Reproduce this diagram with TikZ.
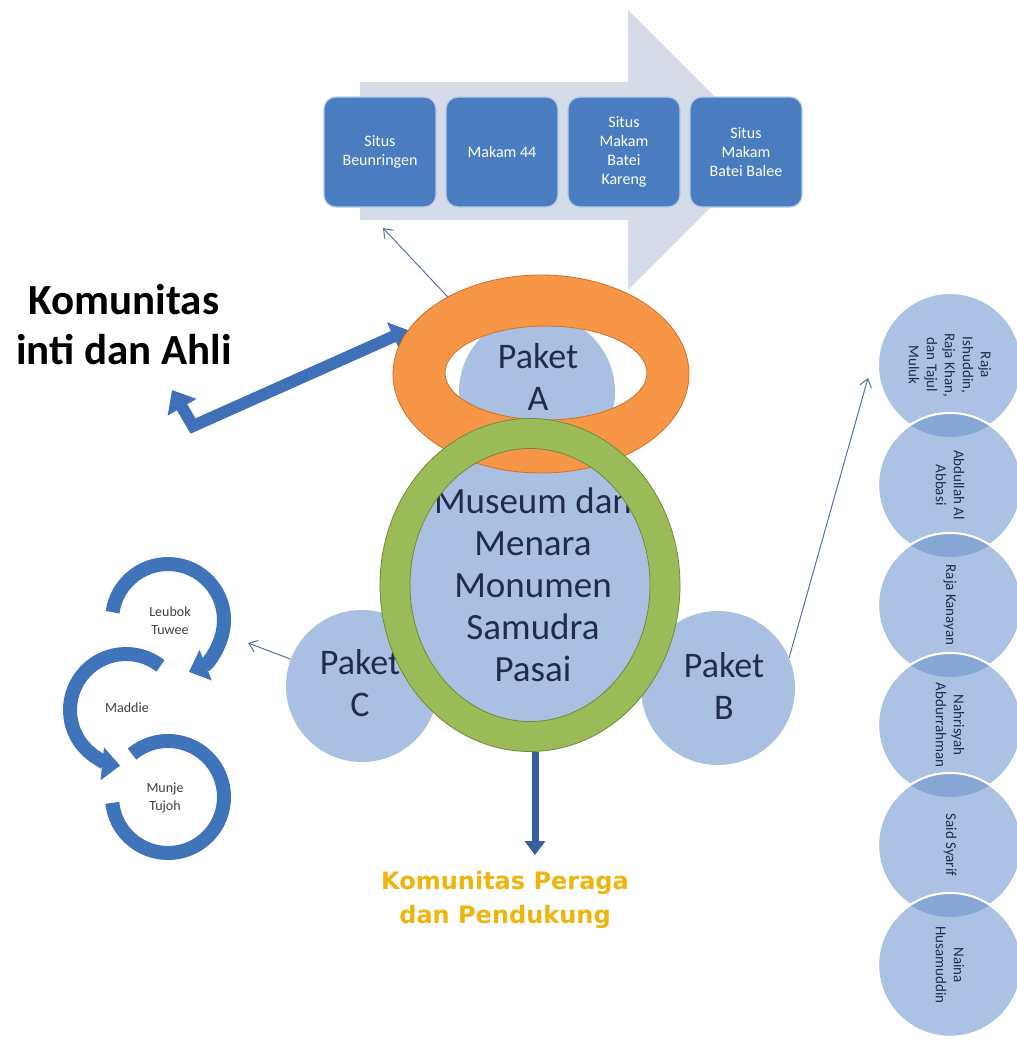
\documentclass[tikz,border=0pt]{standalone}
\usepackage{fontspec}
\setmainfont{Carlito}
\newfontfamily\goldfont{DejaVu Sans}
\usetikzlibrary{arrows.meta,shapes.geometric}
\definecolor{arrowbg}{HTML}{D5DCE8}
\definecolor{boxblue}{HTML}{4A7DC0}
\definecolor{boxedge}{HTML}{B4CDEB}
\definecolor{lightblue}{HTML}{A9C0E2}
\definecolor{rblue}{HTML}{ABC2E4}
\definecolor{rlens}{HTML}{86A6D6}
\definecolor{ringorange}{HTML}{F79646}
\definecolor{orangeedge}{HTML}{D0702A}
\definecolor{ringgreen}{HTML}{9BBB59}
\definecolor{greenedge}{HTML}{6E8C35}
\definecolor{navytext}{HTML}{1F2D4A}
\definecolor{arrowblue}{HTML}{3F70B8}
\definecolor{thinblue}{HTML}{5472A3}
\definecolor{loopblue}{HTML}{3F73BA}
\definecolor{goldtext}{HTML}{EDB50E}
\begin{document}
\begin{tikzpicture}[x=1pt,y=-1pt,
  sitebox/.style={draw=boxedge, line width=1.2, fill=boxblue, rounded corners=12,
    minimum width=112, minimum height=110, inner sep=2, text=white, align=center,
    font=\fontsize{16}{19}\selectfont},
  bcircle/.style={circle, fill=lightblue, inner sep=0},
  bigtxt/.style={align=center, text=navytext, font=\fontsize{36}{42}\selectfont},
  thinarr/.style={draw=thinblue, line width=1, -{Straight Barb[length=8,width=12]}},
  looparc/.style={draw=loopblue, line width=14},
  looptxt/.style={align=center, text=black!75, font=\fontsize{14}{18}\selectfont},
  rcirc/.style={circle, minimum size=144, inner sep=0, fill=rblue, draw=white, line width=2,
    rotate=-90, align=center, text=navytext, font=\fontsize{15}{18}\selectfont}]
\fill[white] (0,0) rectangle (1017,1044);
\useasboundingbox (0,0) rectangle (1017,1044);

% big process arrow
\fill[arrowbg] (360,82) -- (628,82) -- (628,10) -- (768,150) -- (628,290) -- (628,220) -- (360,220) -- cycle;

% site boxes
\node[sitebox] (b1) at (380,152) {Situs\\Beunringen};
\node[sitebox] (b2) at (502,152) {Makam 44};
\node[sitebox] (b3) at (624,152) {Situs\\Makam\\Batei\\Kareng};
\node[sitebox] (b4) at (746,152) {Situs\\Makam\\Batei Balee};

% Paket A circle and link to boxes
\node[bcircle, minimum size=156] (pa) at (537,392) {};
\coordinate (b1tip) at (383,228);
\draw[thinarr] (pa) -- (b1tip);

% thick arrow to Komunitas inti dan Ahli
\coordinate (ka) at (408,330);
\coordinate (kc) at (193,426);
\coordinate (kt) at (172,390);
\draw[draw=arrowblue, line width=12, line join=miter,
  {Triangle[width=32,length=20]}-{Triangle[width=30,length=16]}] (kt) -- (kc) -- (ka);

% centre fill
\fill[lightblue] (530,585) ellipse [x radius=122, y radius=138];

% orange ring
\fill[ringorange, even odd rule] (541,374) ellipse [x radius=148, y radius=99]
  (546,373) ellipse [x radius=101, y radius=47];
\draw[orangeedge, line width=0.8] (541,374) ellipse [x radius=148, y radius=99];
\draw[orangeedge, line width=0.8] (546,373) ellipse [x radius=101, y radius=47];

% Paket B and C circles
\node[bcircle, minimum size=152] (pc) at (362,686) {};
\node[bcircle, minimum size=154] (pb) at (718,688) {};

% texts under the green ring
\node[bigtxt] (tpa) at (538,377) {Paket\\A};
\node[bigtxt] (tpc) at (360,683) {Paket\\C};
\node[bigtxt] (tpb) at (724,686) {Paket\\B};
\node[bigtxt, font=\fontsize{37}{42}\selectfont] (tmm) at (533,585) {Museum dan\\Menara\\Monumen\\Samudra\\Pasai};

% green ring
\node[ellipse, minimum width=270, minimum height=303, inner sep=0, draw=ringgreen, line width=30] (gr) at (530,585) {};
\draw[greenedge, line width=0.8] (530,585) ellipse [x radius=150, y radius=166.5];
\draw[greenedge, line width=0.8] (530,585) ellipse [x radius=120, y radius=136.5];

% down arrow and label
\coordinate (dn) at (535,855);
\draw[draw=arrowblue!85!black, line width=7, -{Triangle[width=20,length=14]}] (dn |- gr.south) -- (dn);
\node[align=center, text=goldtext, font=\goldfont\bfseries\fontsize{24}{34}\selectfont] (kp) at (505,900)
  {Komunitas Peraga\\dan Pendukung};

% Komunitas inti dan Ahli
\node[align=center, text=black, font=\bfseries\fontsize{43}{50}\selectfont] (ki) at (124,325)
  {Komunitas\\inti dan Ahli};

% thin arrows from Paket C and Paket B
\coordinate (ltip) at (248,643);
\draw[thinarr] (pc) -- (ltip);
\coordinate (rtip) at (868,378);
\draw[thinarr] (pb.23) -- (rtip);

% left looping arrows
\coordinate (lc1) at (168,620);
\coordinate (lc2) at (126,710);
\coordinate (lc3) at (168,797);
\draw[looparc, -{Triangle[width=32,length=18]}] ([shift={(188:56)}]lc1) arc[start angle=188, end angle=428, radius=56];
\draw[looparc, -{Triangle[width=32,length=18]}] ([shift={(308:56)}]lc2) arc[start angle=308, end angle=96, radius=56];
\draw[looparc] ([shift={(230:56)}]lc3) arc[start angle=230, end angle=534, radius=56];
\node[looptxt] (lt1) at (170,621) {Leubok\\Tuwee};
\node[looptxt] (lt2) at (127,708) {Maddie};
\node[looptxt] (lt3) at (165,798) {Munje\\Tujoh};

% right column of circles
\node[rcirc] (r1) at (950,365) {Raja\\Ishuddin,\\Raja Khan,\\dan Tajul\\Muluk};
\node[rcirc] (r2) at (950,485) {Abdullah Al\\Abbasi};
\begin{scope}\clip (r1.center) circle[radius=72]; \fill[rlens] (r2.center) circle[radius=72];\end{scope}
\draw[white, line width=2] (r2.center) circle[radius=72];
\node[rcirc] (r3) at (950,605) {Raja Kanayan};
\begin{scope}\clip (r2.center) circle[radius=72]; \fill[rlens] (r3.center) circle[radius=72];\end{scope}
\draw[white, line width=2] (r3.center) circle[radius=72];
\node[rcirc] (r4) at (950,725) {Nahrisyah\\Abdurrahman};
\begin{scope}\clip (r3.center) circle[radius=72]; \fill[rlens] (r4.center) circle[radius=72];\end{scope}
\draw[white, line width=2] (r4.center) circle[radius=72];
\node[rcirc] (r5) at (950,845) {Said Syarif};
\begin{scope}\clip (r4.center) circle[radius=72]; \fill[rlens] (r5.center) circle[radius=72];\end{scope}
\draw[white, line width=2] (r5.center) circle[radius=72];
\node[rcirc] (r6) at (950,965) {Naina\\Husamuddin};
\begin{scope}\clip (r5.center) circle[radius=72]; \fill[rlens] (r6.center) circle[radius=72];\end{scope}
\draw[white, line width=2] (r6.center) circle[radius=72];
\end{tikzpicture}
\end{document}
